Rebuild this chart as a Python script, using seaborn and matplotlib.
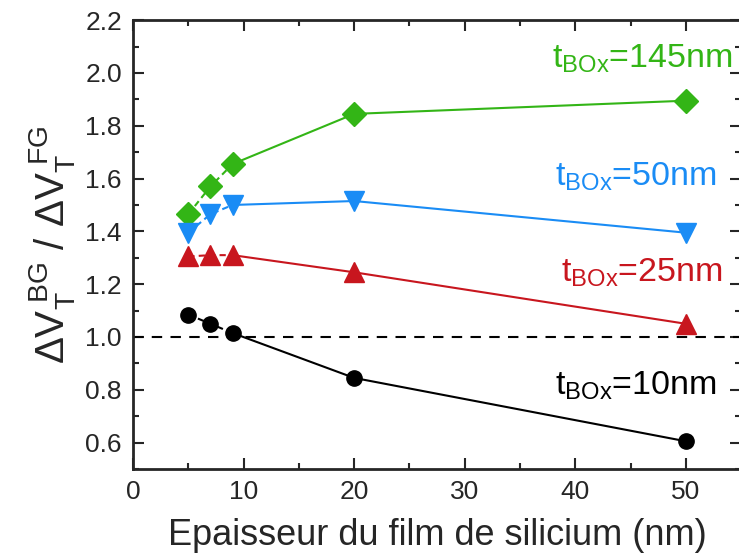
import matplotlib
matplotlib.use("Agg")
import matplotlib.pyplot as plt
from matplotlib.ticker import MultipleLocator, FormatStrFormatter
import pandas as pd
import seaborn as sns

# silicon film thickness (nm)
thickness = [5, 7, 9, 20, 50]

# ratio dVt(BG) / dVt(FG) for each buried oxide thickness
ratio_145 = [1.465, 1.57, 1.655, 1.845, 1.895]
ratio_50 = [1.395, 1.465, 1.50, 1.515, 1.395]
ratio_25 = [1.305, 1.31, 1.31, 1.245, 1.05]
ratio_10 = [1.085, 1.05, 1.015, 0.845, 0.605]

labels = ["145", "50", "25", "10"]
colors = ["#33b516", "#1a8cf5", "#c8161e", "#000000"]
markers = ["D", "v", "^", "o"]
# text anchor (right edge, baseline) in data units
label_pos = [(54.2, 2.02), (52.8, 1.572), (53.3, 1.208), (52.8, 0.78)]

sns.set_style("ticks")
plt.rcParams["font.family"] = ["Liberation Sans", "DejaVu Sans"]
plt.rcParams["mathtext.fontset"] = "custom"
plt.rcParams["mathtext.rm"] = "Liberation Sans"
plt.rcParams["mathtext.it"] = "Liberation Sans"
plt.rcParams["mathtext.bf"] = "Liberation Sans:bold"

fig = plt.figure(figsize=(7.39, 5.6), dpi=100)
ax = fig.add_axes([0.18, 0.1625, 0.823, 0.8015])

series = [ratio_145, ratio_50, ratio_25, ratio_10]
sizes = {"D": 12.5, "v": 14, "^": 14, "o": 11}
for vals, lab, col, mk, pos in zip(series, labels, colors, markers, label_pos):
    df = pd.DataFrame({"x": thickness, "y": vals})
    # thin films: dashed link, thicker films: solid link
    sns.lineplot(data=df.iloc[:3], x="x", y="y", color=col, lw=1.5,
                 ax=ax, linestyle=(0, (3, 2)))
    sns.lineplot(data=df.iloc[2:], x="x", y="y", color=col, lw=1.5, ax=ax)
    ax.plot(df["x"], df["y"], linestyle="none", marker=mk, ms=sizes[mk],
            color=col, mec=col, zorder=3)
    ax.text(pos[0], pos[1], r"$\mathregular{t_{BOx}}$=" + lab + "nm",
            color=col, fontsize=24.5, ha="right", va="baseline")

ax.axhline(1.0, color="black", lw=1.5, linestyle=(0, (5, 4)))

ax.set_xlim(0, 55)
ax.set_ylim(0.5, 2.2)
ax.xaxis.set_major_locator(MultipleLocator(10))
ax.xaxis.set_minor_locator(MultipleLocator(5))
ax.yaxis.set_major_locator(MultipleLocator(0.2))
ax.yaxis.set_minor_locator(MultipleLocator(0.1))
ax.yaxis.set_major_formatter(FormatStrFormatter("%.1f"))

ax.tick_params(which="both", direction="in", top=True, right=True,
               width=1.5, labelsize=19)
ax.tick_params(which="major", length=8, pad=8)
ax.tick_params(which="minor", length=4)
for s in ax.spines.values():
    s.set_linewidth(2)
    s.set_visible(True)

ax.set_xlabel("Epaisseur du film de silicium (nm)", fontsize=26, labelpad=10)
ax.set_ylabel(r"$\mathregular{\Delta V_T^{\ BG}\ /\ \Delta V_T^{\ FG}}$",
              fontsize=29, labelpad=6)

fig.savefig("out.png", dpi=100)
